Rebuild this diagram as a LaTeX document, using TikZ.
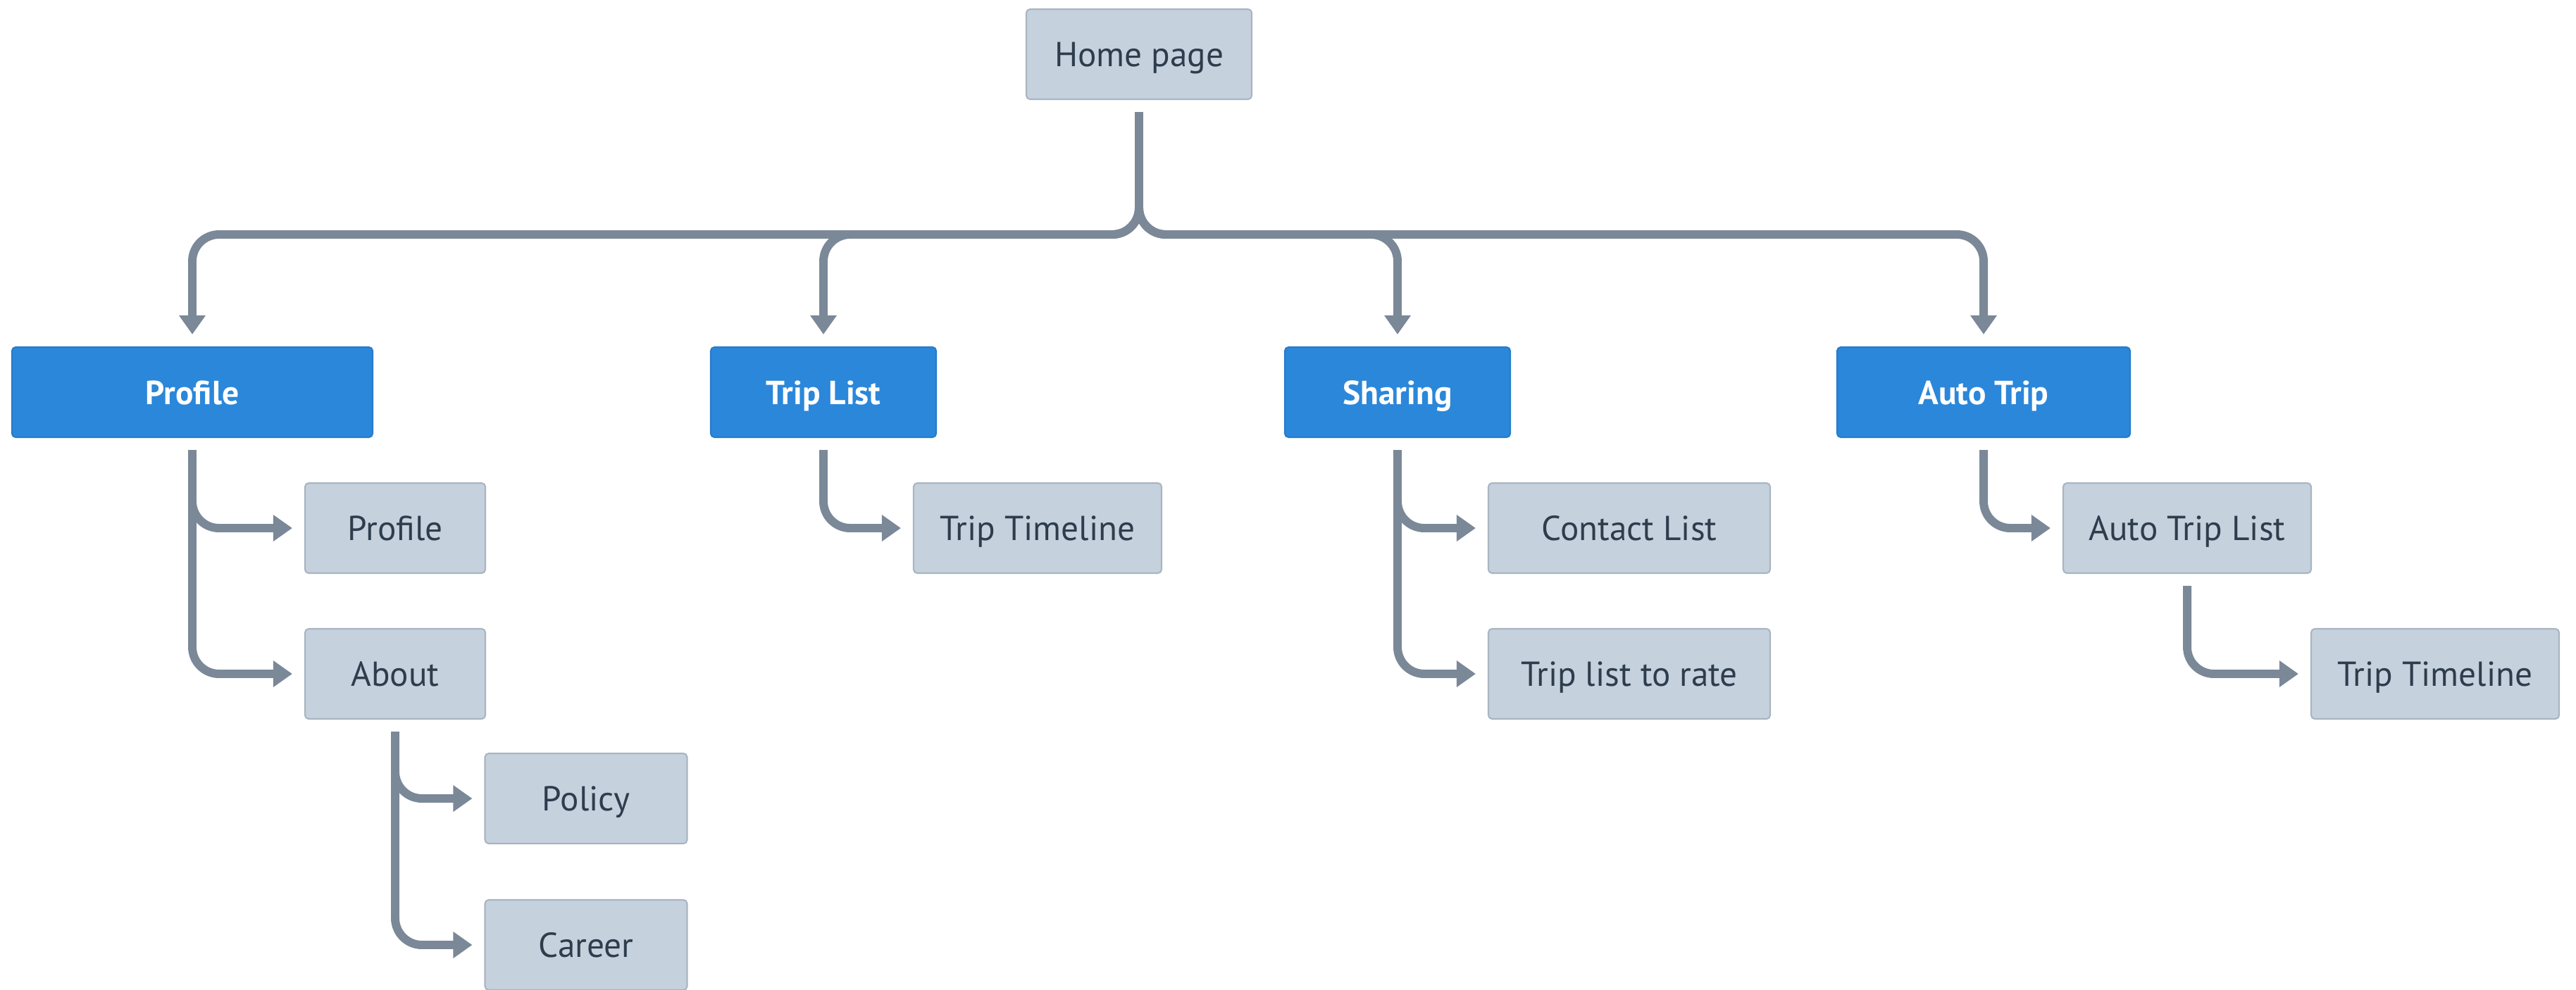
\documentclass[tikz,border=0pt]{standalone}
\usepackage{fontspec}
\setmainfont{PT Sans}
\usetikzlibrary{arrows.meta}

\definecolor{pagegray}{HTML}{C5D1DC}
\definecolor{pageedge}{HTML}{A9B5C1}
\definecolor{topicblue}{HTML}{2B87DA}
\definecolor{linkgray}{HTML}{7A8898}
\definecolor{inktext}{HTML}{2E3D4D}

\begin{document}
\begin{tikzpicture}[
    pagebox/.style={draw=pageedge, line width=0.6pt, fill=pagegray, rounded corners=1.5pt,
        minimum height=1.28cm, inner sep=0pt, text=inktext,
        text height=0.345cm, text depth=0cm, font=\fontsize{14}{16}\selectfont},
    topicbox/.style={pagebox, draw=topicblue!92!black, fill=topicblue, text=white,
        font=\fontsize{13.5}{16}\selectfont\bfseries},
    link/.style={draw=linkgray, line width=3.4pt, rounded corners=0.38cm,
        shorten <=0.17cm, shorten >=0.17cm, -{Triangle[width=0.36cm,length=0.27cm]}}
]
    % Рамка
    \useasboundingbox (0,0) rectangle (36.57,-14.05);

    % Главная страница
    \node[pagebox, minimum width=3.20cm] (home) at (16.17,-0.77) {Home page};
    \coordinate (bar) at (16.17,-3.33);

    % Разделы
    \node[topicbox, minimum width=5.12cm] (profile)  at (2.73,-5.57)  {Profile};
    \node[topicbox, minimum width=3.20cm] (triplist) at (11.69,-5.57) {Trip List};
    \node[topicbox, minimum width=3.20cm] (sharing)  at (19.84,-5.57) {Sharing};
    \node[topicbox, minimum width=4.16cm] (autotrip) at (28.16,-5.57) {Auto Trip};

    % Страницы
    \node[pagebox, minimum width=2.56cm] (profilepage) at (5.61,-7.50)  {Profile};
    \node[pagebox, minimum width=2.56cm] (about)       at (5.61,-9.57)  {About};
    \node[pagebox, minimum width=2.87cm] (policy)      at (8.32,-11.34) {Policy};
    \node[pagebox, minimum width=2.87cm] (career)      at (8.32,-13.42) {Career};
    \node[pagebox, minimum width=3.52cm] (timeline)    at (14.73,-7.50) {Trip Timeline};
    \node[pagebox, minimum width=4.00cm] (contacts)    at (23.13,-7.50) {Contact List};
    \node[pagebox, minimum width=4.00cm] (torate)      at (23.13,-9.57) {Trip list to rate};
    \node[pagebox, minimum width=3.52cm] (autolist)    at (31.05,-7.50) {Auto Trip List};
    \node[pagebox, minimum width=3.52cm] (autotimeline) at (34.57,-9.57) {Trip Timeline};

    % Связи сверху
    \foreach \b in {profile, triplist, sharing, autotrip}
        \draw[link] (home.south) -- (bar) -| (\b.north);

    % Связи вниз
    \foreach \a/\b in {profile/profilepage, profile/about, about/policy, about/career,
        triplist/timeline, sharing/contacts, sharing/torate,
        autotrip/autolist, autolist/autotimeline}
        \draw[link] (\a.south) |- (\b.west);
\end{tikzpicture}
\end{document}
